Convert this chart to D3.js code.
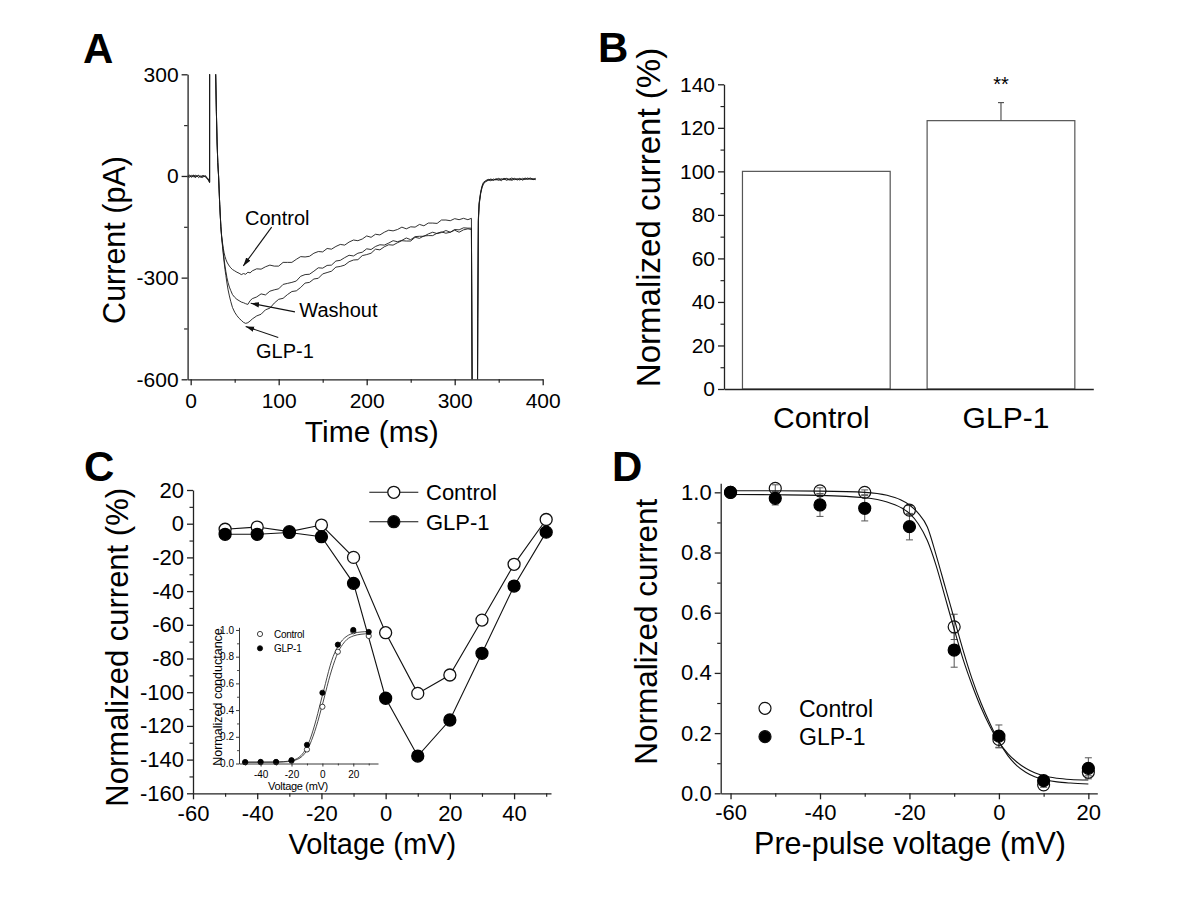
<!DOCTYPE html>
<html>
<head>
<meta charset="utf-8">
<script src="https://cdn.jsdelivr.net/npm/d3@7/dist/d3.min.js"></script>
<style>
  html,body{margin:0;padding:0;background:#fff;}
  svg{display:block;}
</style>
</head>
<body>
<svg id="fig" width="1200" height="900"></svg>
<script>
// ================= DATA =================
// ---- Panel A: current traces (pA) vs time (ms) ----
const preTimes     = [-3.5,-1,1,3,5,7,9,11,13,15,17,19,20.5,21.5];
const preControl   = [-2,3,-4,1,-3,2,-5,0,-3,2,-4,-6,-12,-18];
const preWashout   = [-4,0,-2,3,-5,-1,2,-2,-5,0,-2,-9,-10,-16];
const preGLP       = [1,-4,2,-3,3,-2,1,-4,2,-3,1,-8,-15,-20];

const descentTimes  = [21.6,28.0,28.4,29.2,30.0,30.8,31.7,33.0,34.3];
const descentValues = [900,900,300,190,100,40,0,-85,-150];

const mainTimes = [35.2,36.2,37.1,38,39,40,41.2,42.5,44,45.5,47.5,50,52.5,55,57.5,60,62.5,65,67.5,70,
  75,80,85,90,95,100,105,110,115,120,125,130,135,140,145,150,155,160,165,170,175,180,185,190,195,
  200,205,210,215,220,225,230,235,240,245,250,255,260,265,270,275,280,285,290,295,300,305,310,315,319];
const mainControl = [-178,-198,-214,-227,-238,-246,-254,-260,-266,-271,-276,-280,-284,-287,-291,-288,-290,-284,-286,-280,
  -274,-275,-268,-263,-266,-266,-255,-255,-255,-246,-238,-239,-237,-228,-223,-224,-214,-216,-208,-202,
  -204,-195,-189,-191,-186,-177,-181,-172,-174,-166,-160,-162,-158,-151,-156,-150,-151,-143,-147,-139,
  -139,-140,-130,-130,-132,-126,-129,-125,-129,-125];
const mainWashout = [-180,-204,-226,-246,-266,-282,-300,-315,-328,-338,-350,-358,-364,-368,-372,-374,-377,-379,-368,-362,
  -357,-348,-351,-340,-336,-333,-320,-317,-314,-310,-296,-291,-290,-281,-271,-272,-264,-263,-251,-249,
  -241,-234,-236,-228,-225,-215,-217,-208,-203,-204,-198,-191,-194,-190,-183,-188,-179,-178,-178,-171,
  -166,-170,-167,-161,-166,-158,-159,-153,-154,-154];
const mainGLP = [-182,-208,-232,-254,-276,-294,-316,-336,-354,-370,-388,-402,-412,-420,-426,-432,-435,-433,-428,-422,
  -413,-408,-395,-390,-375,-364,-361,-350,-341,-339,-329,-316,-314,-304,-302,-289,-285,-281,-269,-267,
  -263,-253,-248,-247,-235,-232,-228,-216,-218,-209,-203,-204,-197,-191,-192,-192,-181,-184,-177,-176,
  -176,-169,-165,-169,-166,-160,-166,-159,-156,-158];

const postTimes   = [320.3,325.6,326.2,326.9,327.8,329.5,331,332.6,335,338,341,344,347,350,353,356,359,362,365,368,371,374,377,380,383,386,389,392];
const postControl = [-900,-900,-420,-130,-82,-50,-33,-22,-16,-12,-14,-9,-12,-7,-11,-8,-13,-9,-6,-11,-8,-12,-7,-10,-9,-6,-10,-7];
const postWashout = [-900,-900,-410,-125,-78,-47,-30,-19,-14,-10,-11,-13,-8,-10,-14,-7,-9,-12,-10,-7,-12,-9,-11,-6,-10,-8,-11,-9];
const postGLP     = [-900,-900,-430,-135,-85,-52,-35,-24,-17,-13,-9,-12,-10,-13,-8,-11,-7,-10,-13,-9,-10,-7,-12,-9,-6,-10,-8,-11];

const annotLabels    = ["Control","Washout","GLP-1"];
const annotTextAt    = [[61.7,-144.5],[123.4,-416.8],[74.2,-537.8]];
const annotArrowFrom = [[92,-151],[118.5,-401],[99.5,-476.7]];
const annotArrowTo   = [[59.8,-265.5],[68.2,-375.5],[62.5,-444]];

const aTicksX = [0,100,200,300,400];
const aMinorX = [50,150,250,350];
const aTicksY = [-600,-300,0,300];
const aMinorY = [-450,-150,150];

// ---- Panel B: normalized peak current (%) ----
const bCategories = ["Control","GLP-1"];
const bValues     = [100,123.3];
const bErrors     = [0,8.3];
const bSignif     = ["","**"];
const bTicksY = [0,20,40,60,80,100,120,140];
const bMinorY = [10,30,50,70,90,110,130];

// ---- Panel C: I-V relationship ----
const cVoltages = [-50,-40,-30,-20,-10,0,10,20,30,40,50];
const cControl  = [-3.3,-2,-4.7,-0.8,-20,-64.7,-100.7,-89.8,-57.2,-24.1,2.5];
const cGLP      = [-6.3,-6.3,-5.2,-7.7,-35.4,-103.6,-137.9,-116.5,-76.9,-37,-5];
const cTicksX = [-60,-40,-20,0,20,40];
const cMinorX = [-50,-30,-10,10,30,50];
const cTicksY = [-160,-140,-120,-100,-80,-60,-40,-20,0,20];
const cMinorY = [-150,-130,-110,-90,-70,-50,-30,-10,10];

// ---- Panel C inset: normalized conductance ----
const insetVoltages = [-50,-40,-30,-20,-10,0,10,20,30];
const insetControl  = [0.01,0.01,0.01,0.02,0.105,0.425,0.837,0.99,0.955];
const insetGLP      = [0.01,0.012,0.012,0.025,0.14,0.53,0.89,1.0,0.985];
const insetFitV       = [-50,-40,-30,-25,-20,-16,-13,-10,-8,-6,-4,-2,0,2,4,6,8,10,13,16,20,25,30];
const insetFitControl = [0.01,0.01,0.01,0.012,0.018,0.032,0.055,0.1,0.145,0.205,0.275,0.355,0.44,0.53,0.62,0.7,0.77,0.83,0.89,0.93,0.955,0.968,0.972];
const insetFitGLP     = [0.01,0.01,0.011,0.014,0.022,0.04,0.07,0.125,0.18,0.25,0.33,0.42,0.51,0.6,0.69,0.77,0.83,0.875,0.925,0.955,0.975,0.985,0.988];
const insetTicksX = [-40,-20,0,20];
const insetMinorX = [-50,-30,-10,10,30];
const insetTicksY = [0,0.2,0.4,0.6,0.8,1.0];
const insetMinorY = [0.1,0.3,0.5,0.7,0.9];

// ---- Panel D: steady-state inactivation ----
const dVoltages  = [-60,-50,-40,-30,-20,-10,0,10,20];
const dControl   = [1.0,1.013,1.005,1.0,0.941,0.553,0.179,0.028,0.07];
const dControlSE = [0,0.012,0.01,0.008,0.015,0.042,0.028,0.008,0.012];
const dGLP       = [1.0,0.98,0.958,0.947,0.886,0.476,0.19,0.042,0.083];
const dGLPSE     = [0,0.022,0.038,0.042,0.044,0.057,0.037,0.01,0.035];
const dFitV       = [-60,-50,-40,-30,-25,-22,-20,-18,-16,-14,-12,-10,-8,-6,-4,-2,0,2,4,6,8,10,13,16,20];
const dFitControl = [1.005,1.005,1.004,1.0,0.99,0.975,0.958,0.93,0.885,0.79,0.685,0.58,0.475,0.38,0.3,0.232,0.172,0.125,0.092,0.07,0.055,0.046,0.038,0.034,0.031];
const dFitGLP     = [0.993,0.992,0.99,0.982,0.968,0.95,0.93,0.895,0.84,0.755,0.65,0.545,0.445,0.36,0.285,0.222,0.17,0.132,0.104,0.083,0.068,0.058,0.05,0.046,0.044];
const dTicksX = [-60,-40,-20,0,20];
const dMinorX = [-50,-30,-10,10];
const dTicksY = [0,0.2,0.4,0.6,0.8,1.0];
const dMinorY = [0.1,0.3,0.5,0.7,0.9];

const seriesNames = ["Control","GLP-1"];

// ================= DRAWING =================
const FONT = '"Liberation Sans", Arial, Helvetica, sans-serif';
const INK = "#111";
const svg = d3.select("#fig").attr("font-family", FONT);
svg.append("rect").attr("width",1200).attr("height",900).attr("fill","#fff");

function axis(g, scale, side, pos, major, minor, fmt, fs, pad, opts={}) {
  const mk = side === "left" ? d3.axisLeft : d3.axisBottom;
  const tr = side === "left" ? `translate(${pos},0)` : `translate(0,${pos})`;
  const maj = opts.major || 6, mn = opts.minor || 3.5, sw = opts.sw || 1.3;
  if (minor && minor.length) {
    const m = g.append("g").attr("transform", tr)
      .call(mk(scale).tickValues(minor).tickSize(mn).tickFormat("").tickSizeOuter(0));
    m.select(".domain").remove();
    m.selectAll("line").attr("stroke", "#222").attr("stroke-width", sw*0.9);
  }
  const a = g.append("g").attr("transform", tr)
    .call(mk(scale).tickValues(major).tickSize(maj).tickPadding(pad).tickFormat(fmt).tickSizeOuter(0));
  a.attr("font-family", FONT);
  a.selectAll("text").attr("font-size", fs).attr("fill", "#000");
  a.selectAll("line").attr("stroke", "#222").attr("stroke-width", sw);
  a.select(".domain").attr("stroke", "#222").attr("stroke-width", sw);
  return a;
}
const str = d => String(d);
const f1 = d3.format(".1f");

function panelLabel(txt, x, y) {
  svg.append("text").attr("x", x).attr("y", y).text(txt)
    .attr("font-size", 42).attr("font-weight", "bold").attr("fill", "#000");
}
function yTitle(txt, x, cy, fs) {
  svg.append("text").attr("transform", `translate(${x},${cy}) rotate(-90)`)
    .attr("text-anchor", "middle").attr("font-size", fs).attr("fill", "#000").text(txt);
}
function xTitle(txt, cx, y, fs) {
  svg.append("text").attr("x", cx).attr("y", y)
    .attr("text-anchor", "middle").attr("font-size", fs).attr("fill", "#000").text(txt);
}

// ---------- Panel A ----------
{
  const x = d3.scaleLinear().domain([-3.5, 400]).range([187.6, 542.7]);
  const y = d3.scaleLinear().domain([-600, 300]).range([379.3, 74.3]);
  const g = svg.append("g");
  svg.append("defs").append("clipPath").attr("id", "clipA")
    .append("rect").attr("x", x.range()[0]).attr("y", y.range()[1])
    .attr("width", x.range()[1] - x.range()[0]).attr("height", y.range()[0] - y.range()[1]);

  const build = (pre, main, post) => [
    ...preTimes.map((t, i) => [t, pre[i]]),
    ...descentTimes.map((t, i) => [t, descentValues[i]]),
    ...mainTimes.map((t, i) => [t, main[i]]),
    ...postTimes.map((t, i) => [t, post[i]])
  ];
  const traces = [
    build(preControl, mainControl, postControl),
    build(preWashout, mainWashout, postWashout),
    build(preGLP, mainGLP, postGLP)
  ];
  const line = d3.line().x(d => x(d[0])).y(d => y(d[1]));
  g.append("g").attr("clip-path", "url(#clipA)")
    .selectAll("path").data(traces).join("path")
    .attr("d", line).attr("fill", "none").attr("stroke", "#1a1a1a")
    .attr("stroke-width", 0.9).attr("stroke-linejoin", "round");

  axis(g, x, "bottom", y.range()[0], aTicksX, aMinorX, str, 21, 8);
  axis(g, y, "left", x.range()[0], aTicksY, aMinorY, str, 21, 3);

  const defs = svg.select("defs");
  defs.append("marker").attr("id", "arrA").attr("markerUnits", "userSpaceOnUse")
    .attr("markerWidth", 9).attr("markerHeight", 6).attr("refX", 8.5).attr("refY", 3)
    .attr("orient", "auto")
    .append("path").attr("d", "M0,0.4 L8.5,3 L0,5.6 Z").attr("fill", "#111");

  annotLabels.forEach((lab, i) => {
    g.append("text").attr("x", x(annotTextAt[i][0])).attr("y", y(annotTextAt[i][1]))
      .attr("font-size", 20).attr("fill", "#000").text(lab);
    g.append("line")
      .attr("x1", x(annotArrowFrom[i][0])).attr("y1", y(annotArrowFrom[i][1]))
      .attr("x2", x(annotArrowTo[i][0])).attr("y2", y(annotArrowTo[i][1]))
      .attr("stroke", "#111").attr("stroke-width", 1.1).attr("marker-end", "url(#arrA)");
  });

  xTitle("Time (ms)", 371.7, 442, 30);
  yTitle("Current (pA)", 125, 240, 30.5);
  panelLabel("A", 83, 63);
}

// ---------- Panel B ----------
{
  const y = d3.scaleLinear().domain([0, 140]).range([389, 84.3]);
  const x = d3.scaleBand().domain(bCategories).range([724, 1093.3]).paddingInner(0.2).paddingOuter(0.1);
  const g = svg.append("g");
  g.selectAll("rect.bar").data(bCategories).join("rect").attr("class", "bar")
    .attr("x", d => x(d)).attr("width", x.bandwidth())
    .attr("y", (d, i) => y(bValues[i])).attr("height", (d, i) => y(0) - y(bValues[i]))
    .attr("fill", "#fff").attr("stroke", "#555").attr("stroke-width", 1.2);
  bCategories.forEach((c, i) => {
    if (!bErrors[i]) return;
    const cx = x(c) + x.bandwidth() / 2;
    g.append("line").attr("x1", cx).attr("x2", cx)
      .attr("y1", y(bValues[i])).attr("y2", y(bValues[i] + bErrors[i]))
      .attr("stroke", "#555").attr("stroke-width", 1.2);
    g.append("line").attr("x1", cx - 3).attr("x2", cx + 3)
      .attr("y1", y(bValues[i] + bErrors[i])).attr("y2", y(bValues[i] + bErrors[i]))
      .attr("stroke", "#555").attr("stroke-width", 1.2);
  });
  bCategories.forEach((c, i) => {
    if (!bSignif[i]) return;
    g.append("text").attr("x", x(c) + x.bandwidth() / 2).attr("y", 91)
      .attr("text-anchor", "middle").attr("font-size", 20).attr("fill", "#000").text(bSignif[i]);
  });
  const xa = g.append("g").attr("transform", `translate(0,${y(0)})`)
    .call(d3.axisBottom(x).tickSize(0).tickPadding(17.5).tickSizeOuter(0));
  xa.attr("font-family", FONT);
  xa.select(".domain").attr("stroke", "#222").attr("stroke-width", 1.3);
  xa.selectAll("text").attr("font-size", 30).attr("fill", "#000").attr("dx", 5);
  axis(g, y, "left", 724, bTicksY, bMinorY, str, 21, 3);
  yTitle("Normalized current (%)", 660, 217.5, 33);
  panelLabel("B", 598, 62);
}

// ---------- Panel C ----------
{
  const x = d3.scaleLinear().domain([-60, 51.5]).range([193, 551]);
  const y = d3.scaleLinear().domain([-160, 20]).range([793.3, 490]);
  const g = svg.append("g");
  axis(g, x, "bottom", y.range()[0], cTicksX, cMinorX, str, 22, 6.5);
  axis(g, y, "left", x.range()[0], cTicksY, cMinorY, str, 22, 3);

  // inset
  const xi = d3.scaleLinear().domain([-54, 36]).range([239, 378]);
  const yi = d3.scaleLinear().domain([0, 1.02]).range([763.5, 627.3]);
  const gi = svg.append("g");
  const fitLine = d3.line().x(d => xi(d[0])).y(d => yi(d[1])).curve(d3.curveMonotoneX);
  [insetFitControl, insetFitGLP].forEach(arr => {
    gi.append("path").attr("d", fitLine(insetFitV.map((v, i) => [v, arr[i]])))
      .attr("fill", "none").attr("stroke", "#333").attr("stroke-width", 0.9);
  });
  gi.selectAll("circle.ic").data(insetVoltages).join("circle").attr("class", "ic")
    .attr("cx", d => xi(d)).attr("cy", (d, i) => yi(insetControl[i])).attr("r", 2.6)
    .attr("fill", "#fff").attr("stroke", "#111").attr("stroke-width", 0.8);
  gi.selectAll("circle.ig").data(insetVoltages).join("circle").attr("class", "ig")
    .attr("cx", d => xi(d)).attr("cy", (d, i) => yi(insetGLP[i])).attr("r", 2.6)
    .attr("fill", "#000").attr("stroke", "#000").attr("stroke-width", 0.8);
  axis(gi, xi, "bottom", yi.range()[0], insetTicksX, insetMinorX, str, 10, 4, {major: 3, minor: 2, sw: 0.9});
  axis(gi, yi, "left", xi.range()[0], insetTicksY, insetMinorY, f1, 10, 2, {major: 3, minor: 2, sw: 0.9});
  gi.append("text").attr("x", 298).attr("y", 790).attr("text-anchor", "middle")
    .attr("font-size", 11).attr("letter-spacing", -0.3).attr("fill", "#000").text("Voltage (mV)");
  gi.append("text").attr("transform", "translate(221.5,697) rotate(-90)").attr("text-anchor", "middle")
    .attr("font-size", 12.5).attr("fill", "#000").text("Normalized conductance");
  // inset legend
  [["#fff", 634], ["#000", 648.3]].forEach((s, i) => {
    gi.append("circle").attr("cx", 260).attr("cy", s[1]).attr("r", 2.6)
      .attr("fill", s[0]).attr("stroke", "#111").attr("stroke-width", 0.8);
    gi.append("text").attr("x", 274).attr("y", s[1] + 3.6).attr("font-size", 10)
      .attr("fill", "#000").attr("letter-spacing", -0.3).text(seriesNames[i]);
  });

  // main data
  const line = d3.line().x(d => x(d[0])).y(d => y(d[1]));
  [cControl, cGLP].forEach(arr => {
    g.append("path").attr("d", line(cVoltages.map((v, i) => [v, arr[i]])))
      .attr("fill", "none").attr("stroke", INK).attr("stroke-width", 1.1);
  });
  g.selectAll("circle.cc").data(cVoltages).join("circle").attr("class", "cc")
    .attr("cx", d => x(d)).attr("cy", (d, i) => y(cControl[i])).attr("r", 6)
    .attr("fill", "#fff").attr("stroke", INK).attr("stroke-width", 1.3);
  g.selectAll("circle.cg").data(cVoltages).join("circle").attr("class", "cg")
    .attr("cx", d => x(d)).attr("cy", (d, i) => y(cGLP[i])).attr("r", 6)
    .attr("fill", "#000").attr("stroke", "#000").attr("stroke-width", 1.3);

  // legend
  [["#fff", 492.3], ["#000", 521.7]].forEach((s, i) => {
    g.append("line").attr("x1", 369.3).attr("x2", 418.3).attr("y1", s[1]).attr("y2", s[1])
      .attr("stroke", INK).attr("stroke-width", 1.1);
    g.append("circle").attr("cx", 393.8).attr("cy", s[1]).attr("r", 6)
      .attr("fill", s[0]).attr("stroke", INK).attr("stroke-width", 1.3);
    g.append("text").attr("x", 426).attr("y", s[1] + 8).attr("font-size", 22)
      .attr("fill", "#000").text(seriesNames[i]);
  });

  xTitle("Voltage (mV)", 372.3, 854, 29);
  yTitle("Normalized current (%)", 128.3, 647.3, 31);
  panelLabel("C", 84, 481);
}

// ---------- Panel D ----------
{
  const x = d3.scaleLinear().domain([-62.2, 22]).range([720.7, 1097.3]);
  const y = d3.scaleLinear().domain([0, 1.03]).range([793.3, 483.3]);
  const g = svg.append("g");
  axis(g, x, "bottom", y.range()[0], dTicksX, dMinorX, str, 22, 5.5);
  axis(g, y, "left", x.range()[0], dTicksY, dMinorY, f1, 22, 3);

  // error bars
  const err = (vals, se) => {
    dVoltages.forEach((v, i) => {
      if (!se[i]) return;
      const cx = x(v), y1 = y(vals[i] - se[i]), y2 = y(vals[i] + se[i]);
      g.append("line").attr("x1", cx).attr("x2", cx).attr("y1", y1).attr("y2", y2)
        .attr("stroke", "#555").attr("stroke-width", 1);
      [y1, y2].forEach(yy => g.append("line").attr("x1", cx - 3.5).attr("x2", cx + 3.5)
        .attr("y1", yy).attr("y2", yy).attr("stroke", "#555").attr("stroke-width", 1));
    });
  };
  err(dControl, dControlSE);
  err(dGLP, dGLPSE);

  const fit = d3.line().x(d => x(d[0])).y(d => y(d[1])).curve(d3.curveMonotoneX);
  g.selectAll("circle.dc").data(dVoltages).join("circle").attr("class", "dc")
    .attr("cx", d => x(d)).attr("cy", (d, i) => y(dControl[i])).attr("r", 6)
    .attr("fill", "none").attr("stroke", INK).attr("stroke-width", 1.2);
  [dFitControl, dFitGLP].forEach(arr => {
    g.append("path").attr("d", fit(dFitV.map((v, i) => [v, arr[i]])))
      .attr("fill", "none").attr("stroke", INK).attr("stroke-width", 1.1);
  });
  g.selectAll("circle.dg").data(dVoltages).join("circle").attr("class", "dg")
    .attr("cx", d => x(d)).attr("cy", (d, i) => y(dGLP[i])).attr("r", 6)
    .attr("fill", "#000").attr("stroke", "#000").attr("stroke-width", 1.2);

  // legend
  [["none", 708.3], ["#000", 736.7]].forEach((s, i) => {
    g.append("circle").attr("cx", 765).attr("cy", s[1]).attr("r", 6)
      .attr("fill", s[0]).attr("stroke", INK).attr("stroke-width", 1.2);
    g.append("text").attr("x", 799).attr("y", s[1] + 8.3).attr("font-size", 23)
      .attr("fill", "#000").text(seriesNames[i]);
  });

  xTitle("Pre-pulse voltage (mV)", 910, 854, 30.5);
  yTitle("Normalized current", 656.7, 631.7, 31.5);
  panelLabel("D", 612, 481);
}
</script>
</body>
</html>
